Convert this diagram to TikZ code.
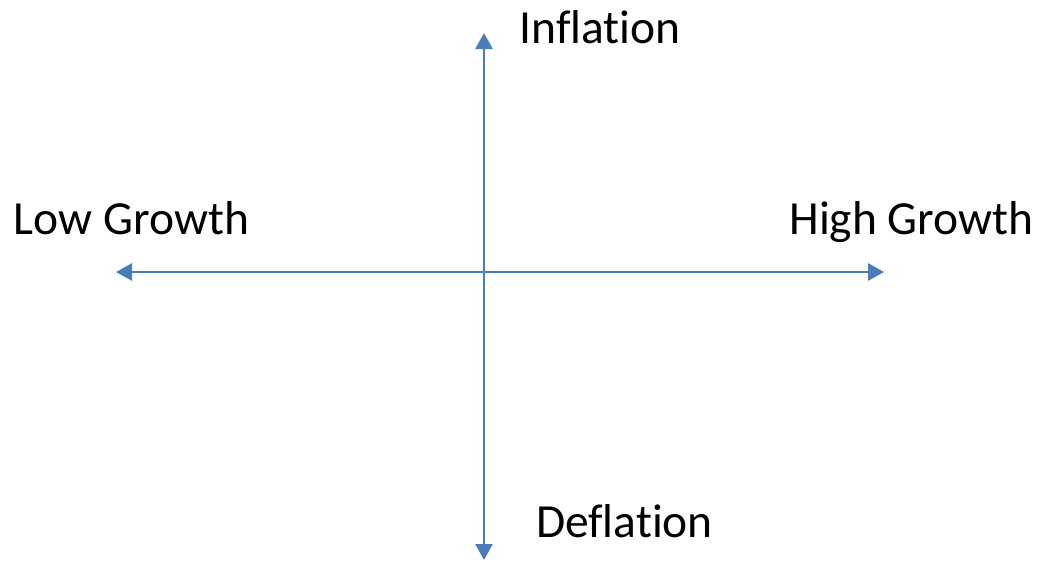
\documentclass[tikz,border=0pt]{standalone}
\usepackage{fontspec}
\setmainfont[Ligatures={NoCommon}]{Carlito}
\usetikzlibrary{arrows.meta}
\definecolor{axisblue}{HTML}{4A7EBB}
\tikzset{
  axistip/.tip={Triangle[length=16pt,width=17pt]},
  axisline/.style={draw=axisblue, line width=2.75pt, axistip-axistip},
  axislabel/.style={font=\fontsize{47.5}{52}\selectfont, inner sep=0pt, anchor=base, text=black}
}
\begin{document}
\begin{tikzpicture}[x=1pt,y=-1pt]
\useasboundingbox (0,0) rectangle (1039,563);
\coordinate (top) at (484,33);
\coordinate (bottom) at (484,560);
\coordinate (left) at (116,272);
\coordinate (right) at (884,272);
\draw[axisline] (bottom) -- (top);
\draw[axisline] (left) -- (right);
\node[axislabel] (infl) at (600,43) {Inflation};
\node[axislabel] (defl) at (624.5,537) {Deflation};
\node[axislabel] (low) at (131.5,234) {Low Growth};
\node[axislabel] (high) at (911.5,234) {High Growth};
\end{tikzpicture}
\end{document}
